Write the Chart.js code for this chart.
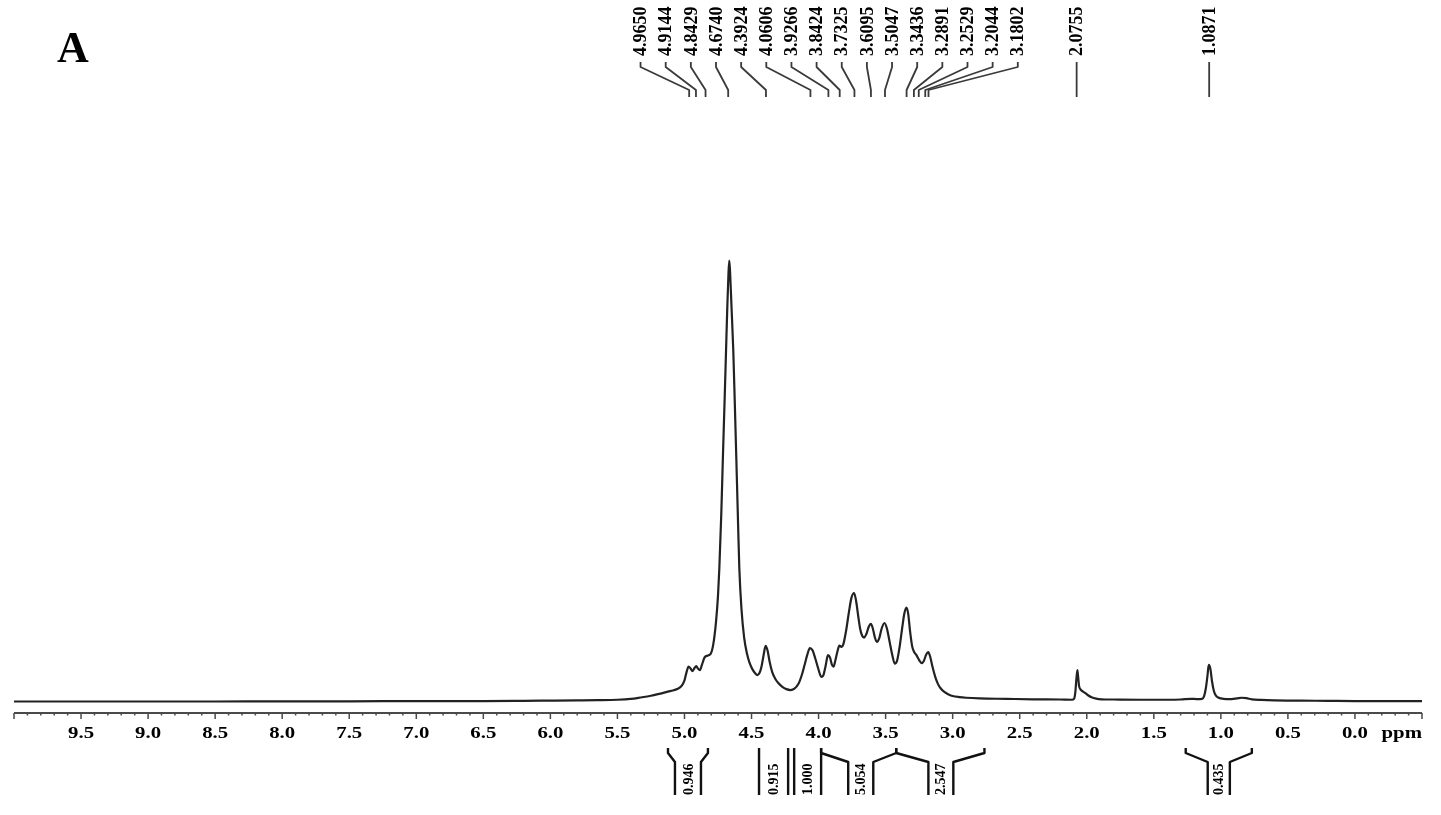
<!DOCTYPE html>
<html>
<head>
<meta charset="utf-8">
<title>1H NMR spectrum A</title>
<script src="https://cdn.jsdelivr.net/npm/chart.js@4.4.1/dist/chart.umd.min.js"></script>
<style>
  html, body { margin: 0; padding: 0; background: #fff; }
  #wrap { width: 1441px; height: 815px; position: relative; }
</style>
</head>
<body>
<div id="wrap"><canvas id="nmrChart"></canvas></div>
<script>
// chemical shift (ppm) and intensity (% of tallest peak)
const ppm = [
  10.00, 9.50, 9.00, 8.50, 8.00, 7.50, 7.00, 6.50, 6.20, 6.00, 5.80, 5.65, 5.50, 5.40, 5.33, 5.25, 5.18, 5.10,
  5.05, 5.02, 5.00, 4.985, 4.970, 4.955, 4.940, 4.925, 4.912, 4.900, 4.885, 4.870, 4.850, 4.830, 4.805, 4.785,
  4.765, 4.750, 4.740, 4.725, 4.712, 4.700, 4.690, 4.680, 4.672, 4.666, 4.660, 4.650, 4.636, 4.625, 4.615, 4.600,
  4.591, 4.575, 4.555, 4.535, 4.515, 4.495, 4.470, 4.456, 4.440, 4.425, 4.410, 4.395, 4.380, 4.365, 4.345, 4.320,
  4.300, 4.270, 4.240, 4.210, 4.180, 4.150, 4.125, 4.105, 4.085, 4.065, 4.045, 4.025, 4.000, 3.980, 3.965, 3.948,
  3.930, 3.915, 3.900, 3.888, 3.875, 3.858, 3.845, 3.830, 3.815, 3.795, 3.775, 3.755, 3.735, 3.720, 3.705, 3.690,
  3.675, 3.660, 3.645, 3.625, 3.610, 3.595, 3.580, 3.565, 3.548, 3.530, 3.508, 3.490, 3.470, 3.450, 3.432, 3.415,
  3.395, 3.375, 3.360, 3.345, 3.332, 3.318, 3.302, 3.288, 3.270, 3.250, 3.232, 3.215, 3.198, 3.182, 3.168, 3.150,
  3.130, 3.110, 3.090, 3.060, 3.030, 3.000, 2.950, 2.900, 2.800, 2.600, 2.400, 2.200, 2.110, 2.095, 2.085, 2.078,
  2.070, 2.064, 2.058, 2.045, 2.030, 2.010, 1.985, 1.964, 1.930, 1.890, 1.800, 1.600, 1.400, 1.300, 1.220, 1.180,
  1.140, 1.125, 1.112, 1.100, 1.090, 1.078, 1.066, 1.052, 1.038, 1.020, 1.000, 0.960, 0.920, 0.880, 0.845, 0.810,
  0.770, 0.700, 0.600, 0.400, 0.200, 0.000, -0.250, -0.500
];
const intensity = [
  0.0, 0.0, 0.0, 0.0, 0.05, 0.05, 0.1, 0.1, 0.15, 0.2, 0.25, 0.3, 0.4, 0.6, 0.9, 1.3, 1.8, 2.4,
  2.9, 3.6, 4.8, 6.6, 7.9, 7.5, 6.9, 7.6, 8.0, 7.5, 7.1, 8.3, 10.0, 10.4, 10.8, 13.0,
  18.0, 24.0, 30.2, 43.0, 56.9, 69.0, 79.6, 90.0, 97.0, 100.0, 97.5, 90.0, 79.6, 68.0, 56.9, 40.0,
  30.2, 21.0, 14.5, 11.0, 8.8, 7.4, 6.3, 6.0, 6.5, 8.0, 10.5, 12.6, 11.5, 9.0, 6.6, 5.0,
  4.2, 3.3, 2.8, 2.6, 2.9, 4.0, 6.0, 8.2, 10.5, 12.1, 11.6, 9.8, 7.2, 5.6, 5.9, 8.0,
  10.5, 10.0, 8.3, 7.9, 9.3, 11.5, 12.7, 12.4, 13.0, 16.0, 20.0, 23.5, 24.6, 22.8, 19.5, 16.5,
  14.9, 14.5, 15.2, 17.0, 17.6, 16.5, 14.5, 13.5, 14.3, 16.5, 17.8, 16.5, 13.5, 10.5, 8.6, 9.2,
  12.5, 17.0, 20.0, 21.3, 20.0, 16.0, 12.5, 11.3, 10.5, 9.4, 8.7, 9.2, 10.6, 11.2, 10.2, 7.8,
  5.6, 4.0, 3.0, 2.1, 1.6, 1.25, 1.0, 0.85, 0.7, 0.6, 0.5, 0.45, 0.4, 0.6, 2.2, 4.9,
  7.1, 5.5, 3.6, 2.7, 2.3, 1.9, 1.3, 0.95, 0.65, 0.5, 0.45, 0.4, 0.4, 0.45, 0.6, 0.55,
  0.6, 1.2, 3.0, 5.8, 8.3, 7.4, 4.6, 2.4, 1.4, 0.9, 0.7, 0.55, 0.55, 0.7, 0.85, 0.75,
  0.5, 0.35, 0.25, 0.2, 0.15, 0.1, 0.1, 0.1
];

// picked peaks
const peakShifts = [
  4.9650, 4.9144, 4.8429, 4.6740, 4.3924, 4.0606, 3.9266, 3.8424, 3.7325, 3.6095, 3.5047, 3.3436,
  3.2891, 3.2529, 3.2044, 3.1802, 2.0755, 1.0871
];

// integral regions: [outer start, inner start, inner end, outer end] in ppm
const integralBounds = [
  [5.123, 5.071, 4.877, 4.825],
  [4.444, 4.444, 4.227, 4.227],
  [4.182, 4.182, 3.981, 3.981],
  [3.981, 3.779, 3.592, 3.421],
  [3.421, 3.181, 2.995, 2.763],
  [1.262, 1.098, 0.933, 0.769]
];
const integralValues = ['0.946', '0.915', '1.000', '5.054', '2.547', '0.435'];

const tickValues = [9.5, 9.0, 8.5, 8.0, 7.5, 7.0, 6.5, 6.0, 5.5, 5.0, 4.5, 4.0, 3.5, 3.0, 2.5, 2.0, 1.5, 1.0, 0.5, 0.0];

const SERIF = '"Liberation Serif", "Times New Roman", serif';

// spread overlapping peak labels evenly, each group centred on its peaks
function spreadLabels(pixels, gap) {
  let groups = pixels.map((p) => ({ members: [p], center: p }));
  let merged = true;
  while (merged) {
    merged = false;
    for (let i = 0; i < groups.length - 1; i++) {
      const a = groups[i], b = groups[i + 1];
      const aRight = a.center + (a.members.length - 1) * gap / 2;
      const bLeft = b.center - (b.members.length - 1) * gap / 2;
      if (bLeft - aRight < gap) {
        const members = a.members.concat(b.members);
        const center = members.reduce((s, p) => s + p, 0) / members.length;
        groups.splice(i, 2, { members, center });
        merged = true;
        break;
      }
    }
  }
  const out = [];
  groups.forEach((g) => {
    const start = g.center - (g.members.length - 1) * gap / 2;
    g.members.forEach((_, j) => out.push(start + j * gap));
  });
  return out;
}

const nmrDecorations = {
  id: 'nmrDecorations',
  afterDraw(chart) {
    const ctx = chart.ctx;
    const xs = chart.scales.x;
    const area = chart.chartArea;
    const axisY = area.bottom;

    ctx.save();

    // ppm axis with minor ticks every 0.1
    ctx.strokeStyle = '#4a4a4a';
    ctx.lineWidth = 2;
    ctx.beginPath();
    ctx.moveTo(area.left, axisY);
    ctx.lineTo(area.right, axisY);
    ctx.stroke();
    ctx.lineWidth = 1.5;
    ctx.beginPath();
    for (let k = -5; k <= 100; k++) {
      const x = xs.getPixelForValue(k / 10);
      const len = k % 5 === 0 ? 6 : 2.5;
      ctx.moveTo(x, axisY);
      ctx.lineTo(x, axisY + len);
    }
    ctx.stroke();

    // tick labels (wide bold serif)
    ctx.fillStyle = '#000';
    ctx.font = 'bold 16px ' + SERIF;
    ctx.textAlign = 'center';
    ctx.textBaseline = 'alphabetic';
    tickValues.forEach((v) => {
      ctx.save();
      ctx.translate(xs.getPixelForValue(v), axisY + 25);
      ctx.scale(1.3, 1);
      ctx.fillText(v.toFixed(1), 0, 0);
      ctx.restore();
    });
    ctx.save();
    ctx.translate(area.right, axisY + 25);
    ctx.scale(1.3, 1);
    ctx.textAlign = 'right';
    ctx.fillText('ppm', 0, 0);
    ctx.restore();

    // peak labels with leader lines
    const peakPx = peakShifts.map((p) => xs.getPixelForValue(p));
    const labelPx = spreadLabels(peakPx, 25.15);
    ctx.strokeStyle = '#3a3a3a';
    ctx.lineWidth = 1.8;
    ctx.lineJoin = 'round';
    peakPx.forEach((px, i) => {
      const lx = labelPx[i];
      ctx.beginPath();
      ctx.moveTo(lx, 62);
      ctx.lineTo(lx, 67);
      ctx.lineTo(px, 90);
      ctx.lineTo(px, 97);
      ctx.stroke();
      ctx.save();
      ctx.translate(lx, 56);
      ctx.rotate(-Math.PI / 2);
      ctx.font = 'bold 18px ' + SERIF;
      ctx.textAlign = 'left';
      ctx.textBaseline = 'middle';
      ctx.fillText(peakShifts[i].toFixed(4), 0, 1);
      ctx.restore();
    });

    // integral brackets under the axis
    ctx.strokeStyle = '#111';
    ctx.lineWidth = 2.4;
    integralBounds.forEach((b, i) => {
      const [xa, xb, xc, xd] = b.map((p) => xs.getPixelForValue(p));
      ctx.beginPath();
      ctx.moveTo(xa, 748);
      if (Math.abs(xa - xb) > 1) {
        ctx.lineTo(xa, 753);
        ctx.lineTo(xb, 762);
      }
      ctx.lineTo(xb, 795);
      ctx.moveTo(xd, 748);
      if (Math.abs(xd - xc) > 1) {
        ctx.lineTo(xd, 753);
        ctx.lineTo(xc, 762);
      }
      ctx.lineTo(xc, 795);
      ctx.stroke();
      ctx.save();
      ctx.translate((xb + xc) / 2, 795);
      ctx.rotate(-Math.PI / 2);
      ctx.font = 'bold 14px ' + SERIF;
      ctx.textAlign = 'left';
      ctx.textBaseline = 'middle';
      ctx.fillText(integralValues[i], 0, 1);
      ctx.restore();
    });

    // panel letter
    ctx.font = 'bold 44px ' + SERIF;
    ctx.textAlign = 'left';
    ctx.textBaseline = 'alphabetic';
    ctx.fillText('A', 57, 62);

    ctx.restore();
  },
};

Chart.register(nmrDecorations);

const chart = new Chart(document.getElementById('nmrChart').getContext('2d'), {
  type: 'line',
  data: {
    datasets: [
      {
        label: '1H NMR',
        data: ppm.map((p, i) => ({ x: p, y: intensity[i] })),
        borderColor: '#222',
        borderWidth: 2.2,
        pointRadius: 0,
        fill: false,
        cubicInterpolationMode: 'monotone',
      },
    ],
  },
  options: {
    responsive: true,
    maintainAspectRatio: false,
    animation: false,
    layout: { padding: { left: 14, right: 19, top: 120, bottom: 102 } },
    plugins: {
      legend: { display: false },
      tooltip: { enabled: false },
    },
    scales: {
      x: { type: 'linear', reverse: true, min: -0.5, max: 10, display: false },
      y: { min: -2.608, max: 131.86, display: false },
    },
  },
});
</script>
</body>
</html>
